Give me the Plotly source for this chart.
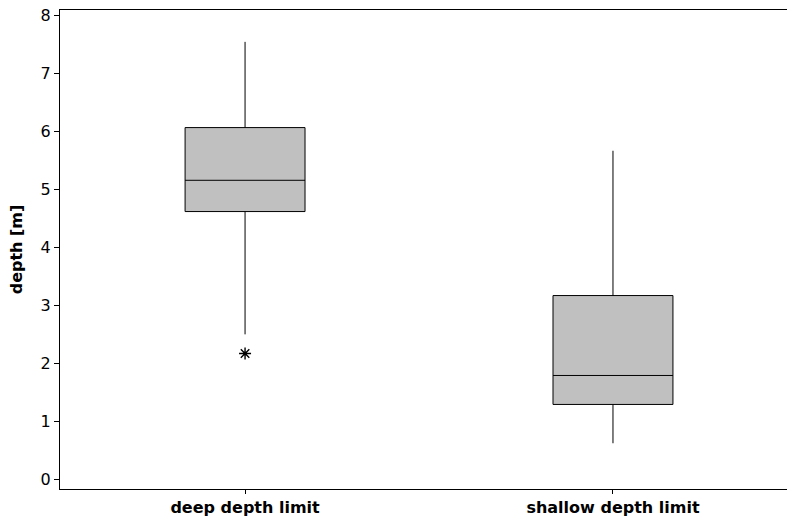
import plotly.graph_objects as go

categories = ["deep depth limit", "shallow depth limit"]
q1 = [4.62, 1.29]
median = [5.16, 1.79]
q3 = [6.07, 3.17]
lower_whisker = [2.50, 0.62]
upper_whisker = [7.55, 5.67]
outlier_cat = ["deep depth limit"]
outlier_val = [2.17]
y_ticks = [0, 1, 2, 3, 4, 5, 6, 7, 8]

fig = go.Figure()
fig.add_trace(go.Box(
    x=categories, q1=q1, median=median, q3=q3,
    lowerfence=lower_whisker, upperfence=upper_whisker,
    fillcolor="#c0c0c0", line=dict(color="black", width=1),
    width=0.326, whiskerwidth=0, boxpoints=False, showlegend=False,
    hoverinfo="skip",
))
fig.add_trace(go.Scatter(
    x=outlier_cat, y=outlier_val, mode="markers",
    marker=dict(symbol="asterisk-open", size=10, color="black",
                line=dict(color="black", width=1.4)),
    showlegend=False,
))

fig.update_layout(
    width=787, height=524,
    margin=dict(l=60, r=0, t=10, b=35),
    paper_bgcolor="white", plot_bgcolor="white",
    font=dict(family="DejaVu Sans", color="black", size=14),
    xaxis=dict(
        type="category", range=[-0.503, 1.473],
        showline=True, linecolor="black", linewidth=1, mirror=True,
        ticks="outside", ticklen=4, tickcolor="black",
        tickfont=dict(family="DejaVu Sans", size=16),
        showgrid=False, zeroline=False,
        tickvals=categories,
        ticktext=["<b>" + c + "</b>" for c in categories],
    ),
    yaxis=dict(
        range=[-0.17, 8.1], tickvals=y_ticks,
        showline=True, linecolor="black", linewidth=1,
        ticks="outside", ticklen=5, tickcolor="black",
        tickfont=dict(family="DejaVu Sans", size=16),
        ticklabeloverflow="allow",
        showgrid=False, zeroline=False,
        title=dict(text="<b>depth [m]</b>", standoff=14,
                   font=dict(family="DejaVu Sans", size=16)),
    ),
)

fig.write_html(
    "out.html",
    config={"displayModeBar": False},
    post_script="document.body.style.margin='0';document.body.style.overflow='hidden';",
)
